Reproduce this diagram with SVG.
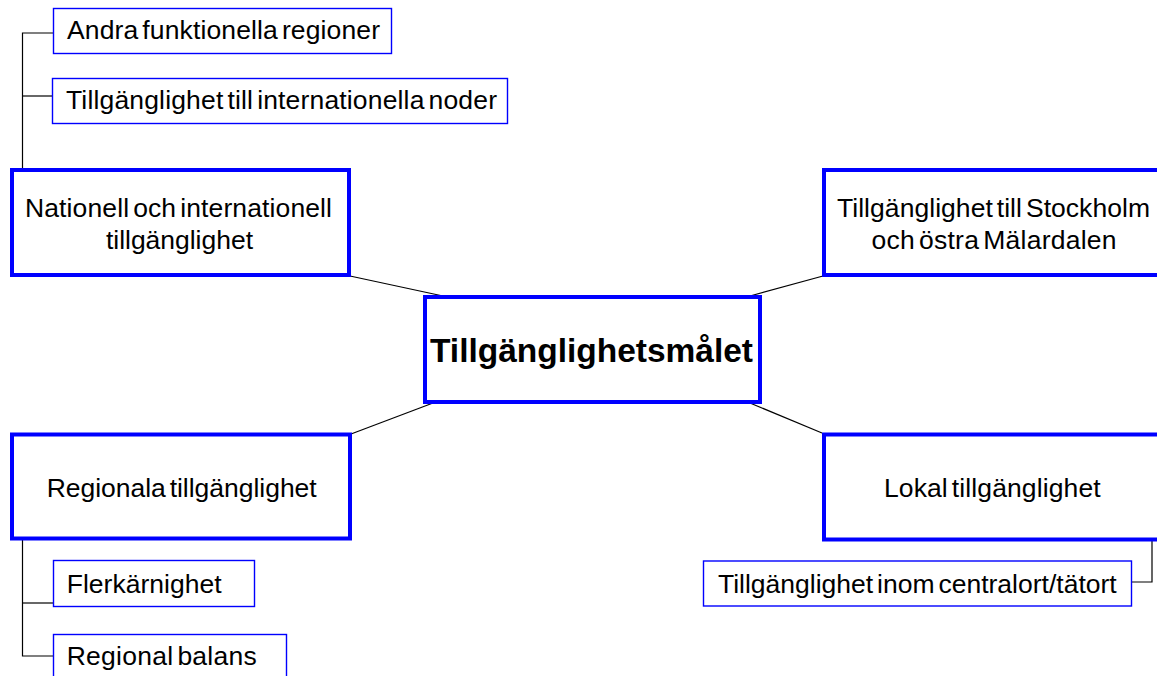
<svg xmlns="http://www.w3.org/2000/svg" width="1157" height="676" viewBox="0 0 1157 676">
<style>
.big{fill:#fff;stroke:#0000ff;stroke-width:4}
.small{fill:#fff;stroke:#0000ff;stroke-width:1.4}
.t{font-family:"Liberation Sans",Arial,sans-serif;font-size:26.5px;word-spacing:-3.5px;fill:#000}
.c{text-anchor:middle}
.b{font-weight:bold;font-size:33.5px}
.conn line,.conn polyline{stroke:#000;stroke-width:1.2;fill:none}
</style>
<rect width="1157" height="676" fill="#fff"/>
<g class="conn" id="connectors">
<line x1="350" y1="276" x2="443" y2="296"/>
<line x1="750" y1="296" x2="823" y2="276"/>
<line x1="433" y1="403" x2="351" y2="434"/>
<line x1="750" y1="403" x2="822" y2="433"/>
<polyline points="53,33 22.5,33 22.5,168"/>
<line x1="22.5" y1="96" x2="52" y2="96"/>
<polyline points="22.5,540 22.5,656 53,656"/>
<line x1="22.5" y1="603" x2="53" y2="603"/>
<polyline points="1152,541 1152,582 1132,582"/>
</g>
<g id="andra">
<rect class="small" x="53.5" y="8.5" width="338" height="45"/>
<text class="t" x="67" y="39" textLength="313" lengthAdjust="spacing">Andra funktionella regioner</text>
</g>
<g id="noder">
<rect class="small" x="52.5" y="78.5" width="455" height="45"/>
<text class="t" x="66" y="109" textLength="431" lengthAdjust="spacing">Tillgänglighet till internationella noder</text>
</g>
<g id="nationell">
<rect class="big" x="12" y="170" width="337" height="105"/>
<text class="t c" x="178.5" y="217" textLength="307" lengthAdjust="spacing">Nationell och internationell</text>
<text class="t c" x="179.5" y="249" textLength="147" lengthAdjust="spacing">tillgänglighet</text>
</g>
<g id="stockholm">
<rect class="big" x="824" y="170" width="337" height="105"/>
<text class="t c" x="993.5" y="217" textLength="313" lengthAdjust="spacing">Tillgänglighet till Stockholm</text>
<text class="t c" x="994" y="249" textLength="245" lengthAdjust="spacing">och östra Mälardalen</text>
</g>
<g id="center">
<rect class="big" x="425" y="297" width="335" height="105"/>
<text class="t c b" x="591.5" y="362" textLength="323" lengthAdjust="spacing">Tillgänglighetsmålet</text>
</g>
<g id="regionala">
<rect class="big" x="12" y="434.5" width="338" height="104"/>
<text class="t c" x="181.7" y="497" textLength="270" lengthAdjust="spacing">Regionala tillgänglighet</text>
</g>
<g id="lokal">
<rect class="big" x="824" y="434.5" width="337" height="105"/>
<text class="t c" x="992.3" y="497" textLength="216.7" lengthAdjust="spacing">Lokal tillgänglighet</text>
</g>
<g id="flerkarnighet">
<rect class="small" x="53.5" y="560.5" width="201" height="46"/>
<text class="t" x="66.7" y="593" textLength="155" lengthAdjust="spacing">Flerkärnighet</text>
</g>
<g id="balans">
<rect class="small" x="53.5" y="634.5" width="233" height="46"/>
<text class="t" x="66.7" y="665" textLength="190" lengthAdjust="spacing">Regional balans</text>
</g>
<g id="tatort">
<rect class="small" x="703.5" y="561" width="428" height="45"/>
<text class="t" x="718" y="593" textLength="398.7" lengthAdjust="spacing">Tillgänglighet inom centralort/tätort</text>
</g>
</svg>
